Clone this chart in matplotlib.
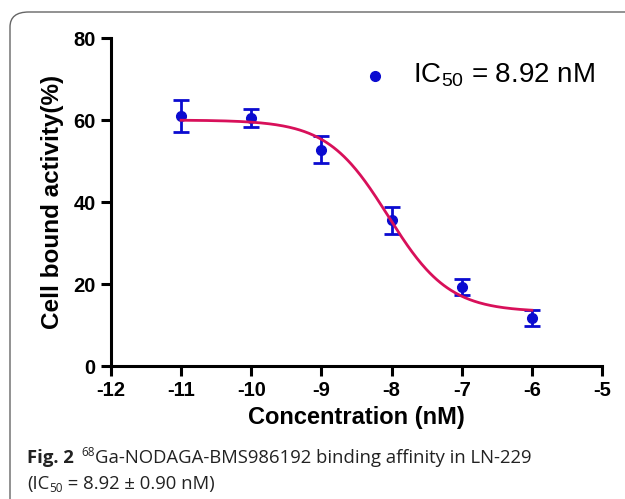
import numpy as np
import matplotlib
matplotlib.use("Agg")
import matplotlib.pyplot as plt
from matplotlib.patches import FancyBboxPatch

# data
log_conc = [-11, -10, -9, -8, -7, -6]
activity = [61.1, 60.5, 52.7, 35.6, 19.2, 11.7]
err = [3.9, 2.1, 3.3, 3.3, 2.0, 2.0]

# fitted sigmoid parameters
top, bottom = 60.0, 13.2
log_ic50 = np.log10(8.92e-9)
hill = 1.0

plt.rcParams['mathtext.fontset'] = 'custom'
plt.rcParams['mathtext.rm'] = 'Liberation Sans'
plt.rcParams['mathtext.it'] = 'Liberation Sans'
plt.rcParams['axes.unicode_minus'] = False

BLUE = '#0b0bd0'

fig = plt.figure(figsize=(6.25, 4.99), dpi=100)
ax = fig.add_axes([0.1776, 0.2665, 0.7856, 0.6573])

# rounded frame around the figure
box = FancyBboxPatch((10 / 625, -0.2), 1.2, 1.2 - 12 / 499,
                     boxstyle="round,pad=0,rounding_size=0.03",
                     transform=fig.transFigure, fill=False,
                     edgecolor='#666666', lw=1.0, clip_on=False)
fig.patches.append(box)

xs = np.linspace(-11, -6, 300)
fit = bottom + (top - bottom) / (1 + 10 ** ((xs - log_ic50) * hill))

ax.errorbar(log_conc, activity, yerr=err, fmt='o', color=BLUE,
            ms=7, elinewidth=2, capsize=6, capthick=2, zorder=3)
ax.plot(xs, fit, color='#d8105a', lw=2, zorder=4)

ax.set_xlim(-12, -5)
ax.set_ylim(0, 80)
ax.set_xticks(range(-12, -4))
ax.set_yticks([0, 20, 40, 60, 80])
for s in ['top', 'right']:
    ax.spines[s].set_visible(False)
for s in ['left', 'bottom']:
    ax.spines[s].set_linewidth(2.2)
ax.tick_params(direction='out', length=7, width=2.2, labelsize=14.5, pad=4)
for lab in ax.get_xticklabels() + ax.get_yticklabels():
    lab.set_fontfamily('Liberation Sans')
    lab.set_fontweight('bold')

ax.set_xlabel('Concentration (nM)', fontsize=17, fontweight='bold',
              family='Liberation Sans', labelpad=4)
ax.set_ylabel('Cell bound activity(%)', fontsize=17.5, fontweight='bold',
              family='Liberation Sans', labelpad=7)

# legend entry (marker + label) in the upper right
ax.plot([0.538], [0.885], 'o', ms=7, color=BLUE, transform=ax.transAxes,
        clip_on=False)
ax.text(0.615, 0.863, 'IC$_{50}$ = 8.92 nM', transform=ax.transAxes,
        family='Liberation Sans', fontsize=20, va='baseline', ha='left')

# caption, built piece by piece
fig.canvas.draw()
renderer = fig.canvas.get_renderer()


def put(txt, x, y, kw):
    t = fig.text(x, y, txt, transform=None, va='baseline', **kw)
    return t.get_window_extent(renderer).x1


cap = {'family': 'Open Sans', 'size': 13.3, 'color': '#222222'}
sup = {'family': 'Open Sans', 'size': 8.5, 'color': '#222222'}
H = 499
y1, y2 = H - 463, H - 489

x = put('Fig. 2', 27, y1, dict(cap, weight='bold'))
x = put('68', x + 8, y1 + 7, sup)
put('Ga-NODAGA-BMS986192 binding affinity in LN-229', x, y1, cap)

x = put('(IC', 27, y2, cap)
x = put('50', x, y2 - 3, sup)
put(' = 8.92 \u00b1 0.90 nM)', x, y2, cap)

fig.savefig('out.png', dpi=100)
